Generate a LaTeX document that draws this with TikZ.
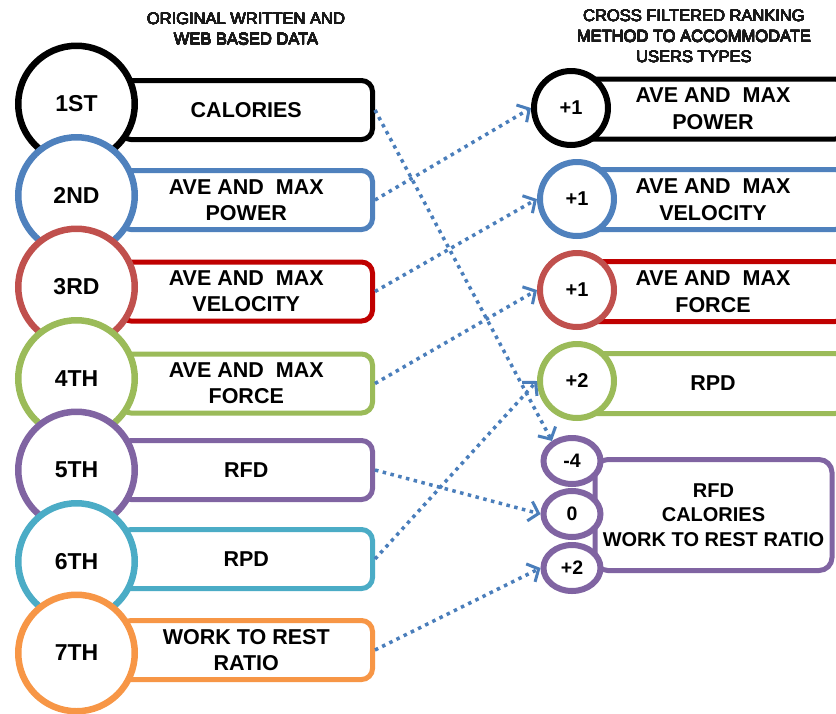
\documentclass[tikz,border=0pt]{standalone}
\usepackage{fontspec}
\setmainfont{Liberation Sans}
\usepackage{contour}
\contourlength{0.2pt}
\contournumber{16}
\usetikzlibrary{shapes.geometric,arrows.meta}

\definecolor{rkblue}{HTML}{4F81BD}
\definecolor{rkredring}{HTML}{C0504D}
\definecolor{rkredbox}{HTML}{C00000}
\definecolor{rkgreen}{HTML}{9BBB59}
\definecolor{rkpurple}{HTML}{8064A2}
\definecolor{rkteal}{HTML}{4BACC6}
\definecolor{rkorange}{HTML}{F79646}
\definecolor{rkarrow}{HTML}{4A7EBB}
\definecolor{rkhead}{HTML}{1A1A1A}

% heading lines set slightly heavier than the regular face
\newcommand{\headline}[1]{\contour{rkhead}{#1}}

\begin{document}
\begin{tikzpicture}[x=1pt,y=-1pt,
  heading/.style={text=rkhead, align=center, inner sep=0pt,
    font=\fontsize{16.5}{20.5}\selectfont},
  rankring/.style={circle, line width=6.5pt, fill=white, inner sep=0pt,
    minimum size=116.5pt, font=\fontsize{23}{23}\selectfont\bfseries},
  leftbox/.style={rectangle, rounded corners=11pt, line width=5pt, fill=white,
    minimum width=252.5pt, minimum height=59pt, inner sep=0pt, align=center,
    font=\fontsize{21.5}{26}\selectfont\bfseries},
  scorering/.style={circle, line width=6pt, fill=white, inner sep=0pt,
    minimum size=74pt, font=\fontsize{20}{20}\selectfont\bfseries},
  rightbox/.style={rectangle, rounded corners=11pt, line width=5pt, fill=white,
    minimum width=266pt, minimum height=60pt, inner sep=0pt, align=center,
    font=\fontsize{21.5}{27}\selectfont\bfseries},
  scoreoval/.style={ellipse, line width=6pt, draw=rkpurple, fill=white,
    inner sep=0pt, minimum width=57pt, minimum height=46pt,
    font=\fontsize{19.5}{19.5}\selectfont\bfseries},
  link/.style={draw=rkarrow, line width=3.5pt, dash pattern=on 3.5pt off 4.5pt,
    -{Straight Barb[length=9pt,width=20pt,line width=3pt]}}
]
\useasboundingbox (0,0) rectangle (836,713);
\fill[white] (0,0) rectangle (836,713);
\clip (0,0) rectangle (836,713);

% column headings
\node[heading] (headleft) at (246,29)
  {\headline{ORIGINAL WRITTEN AND}\\\headline{WEB BASED DATA}};
\node[heading] (headright) at (694,36.5)
  {\headline{CROSS FILTERED RANKING}\\\headline{METHOD TO ACCOMMODATE}\\\headline{USERS TYPES}};

% left column: source ranking boxes
\node[leftbox, draw=black]     (b1) at (246.25,110)   {CALORIES};
\node[leftbox, draw=rkblue]    (b2) at (246.25,200)   {AVE AND~~MAX\\POWER};
\node[leftbox, draw=rkredbox]  (b3) at (246.25,291.5) {AVE AND~~MAX\\VELOCITY};
\node[leftbox, draw=rkgreen]   (b4) at (246.25,383.5) {AVE AND~~MAX\\FORCE};
\node[leftbox, draw=rkpurple]  (b5) at (246.25,470)   {RFD};
\node[leftbox, draw=rkteal]    (b6) at (246.25,559)   {RPD};
\node[leftbox, draw=rkorange]  (b7) at (246.25,650)   {WORK TO REST\\RATIO};

% left column: rank rings
\node[rankring, draw=black]      (c1) at (76.5,104)   {1ST};
\node[rankring, draw=rkblue]     (c2) at (76.5,195.5) {2ND};
\node[rankring, draw=rkredring]  (c3) at (76.5,287)   {3RD};
\node[rankring, draw=rkgreen]    (c4) at (76.5,378.5) {4TH};
\node[rankring, draw=rkpurple]   (c5) at (76.5,470)   {5TH};
\node[rankring, draw=rkteal]     (c6) at (76.5,561.5) {6TH};
\node[rankring, draw=rkorange]   (c7) at (76.5,653)   {7TH};

% right column: filtered ranking boxes
\node[rightbox, draw=black]    (s1) at (713,109)   {AVE AND~~MAX\\POWER};
\node[rightbox, draw=rkblue]   (s2) at (713,199.5) {AVE AND~~MAX\\VELOCITY};
\node[rightbox, draw=rkredbox] (s3) at (713,291.5) {AVE AND~~MAX\\FORCE};
\node[rightbox, draw=rkgreen]  (s4) at (713,383.5) {RPD};
\node[rightbox, draw=rkpurple, minimum width=237pt, minimum height=111pt,
      rounded corners=13pt, font=\fontsize{20}{24.5}\selectfont\bfseries]
      (s5) at (713.5,515) {RFD\\CALORIES\\WORK TO REST RATIO};

% right column: score rings
\node[scorering, draw=black]     (r1) at (571,108) {+1};
\node[scorering, draw=rkblue]    (r2) at (577,199) {+1};
\node[scorering, draw=rkredring] (r3) at (577,290) {+1};
\node[scorering, draw=rkgreen]   (r4) at (577,381) {+2};

% stacked score ovals
\node[scoreoval] (e1) at (572,461) {-4};
\node[scoreoval] (e2) at (572,514) {0};
\node[scoreoval] (e3) at (572,568) {+2};

% re-ranking links
\draw[link] (b1.east) -- (e1.135);
\draw[link] (b2.east) -- (r1.west);
\draw[link] (b3.east) -- (r2.west);
\draw[link] (b4.east) -- (r3.west);
\draw[link] (b5.east) -- (e2.west);
\draw[link] (b6.east) -- (r4.west);
\draw[link] (b7.east) -- (e3.west);
\end{tikzpicture}
\end{document}
